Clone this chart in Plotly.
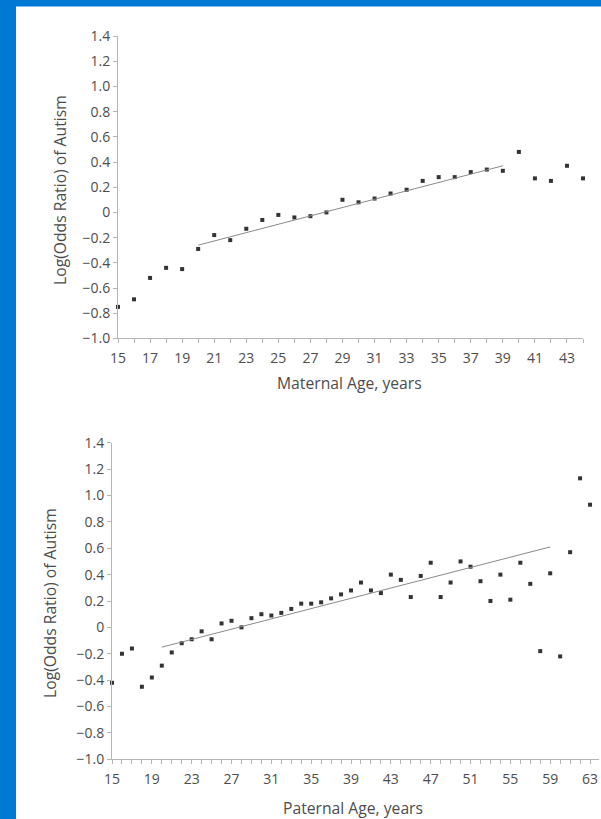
import plotly.graph_objects as go

W, H = 601, 819

# ---- data ----
maternal_age = list(range(15, 45))
maternal_logor = [-0.75, -0.69, -0.52, -0.44, -0.45, -0.29, -0.18, -0.22, -0.13, -0.06,
                  -0.02, -0.04, -0.03, 0.00, 0.10, 0.08, 0.11, 0.15, 0.18, 0.25,
                  0.28, 0.28, 0.32, 0.34, 0.33, 0.48, 0.27, 0.25, 0.37, 0.27]
maternal_trend_x = [20, 39]
maternal_trend_y = [-0.26, 0.37]

paternal_age = list(range(15, 65))
paternal_logor = [-0.42, -0.20, -0.16, -0.45, -0.38, -0.29, -0.19, -0.12, -0.09, -0.03,
                  -0.09, 0.03, 0.05, 0.00, 0.07, 0.10, 0.09, 0.11, 0.14, 0.18,
                  0.18, 0.19, 0.22, 0.25, 0.28, 0.34, 0.28, 0.26, 0.40, 0.36,
                  0.23, 0.39, 0.49, 0.23, 0.34, 0.50, 0.46, 0.35, 0.20, 0.40,
                  0.21, 0.49, 0.33, -0.18, 0.41, -0.22, 0.57, 1.13, 0.93, 1.19]
paternal_trend_x = [20, 59]
paternal_trend_y = [-0.15, 0.61]

y_tickvals = [1.4, 1.2, 1.0, 0.8, 0.6, 0.4, 0.2, 0, -0.2, -0.4, -0.6, -0.8, -1.0]
y_ticktext = ["1.4", "1.2", "1.0", "0.8", "0.6", "0.4", "0.2", "0",
              "\u22120.2", "\u22120.4", "\u22120.6", "\u22120.8", "\u22121.0"]
maternal_xticks = list(range(15, 45, 2))
paternal_xticks = list(range(15, 64, 4))

y_title = "Log(Odds Ratio) of Autism"
maternal_xtitle = "Maternal Age, years"
paternal_xtitle = "Paternal Age, years"

# ---- style ----
FONT = "Open Sans"
TXT = "#4d4d4d"
AXC = "#b5b5b5"
MK = "#333333"
LN = "#8a8a8a"
BLUE = "#0079D4"
TICK_SIZE = 14
TITLE_SIZE = 15.7

def px_x(p):
    return p / W

def px_y(p):
    return 1 - p / H

fig = go.Figure()

fig.add_trace(go.Scatter(x=maternal_age, y=maternal_logor, mode="markers",
                         marker=dict(size=4, color=MK, symbol="square"),
                         xaxis="x", yaxis="y", cliponaxis=False, showlegend=False))
fig.add_trace(go.Scatter(x=maternal_trend_x, y=maternal_trend_y, mode="lines",
                         line=dict(color=LN, width=1),
                         xaxis="x", yaxis="y", showlegend=False))
fig.add_trace(go.Scatter(x=paternal_age, y=paternal_logor, mode="markers",
                         marker=dict(size=4, color=MK, symbol="square"),
                         xaxis="x2", yaxis="y2", cliponaxis=False, showlegend=False))
fig.add_trace(go.Scatter(x=paternal_trend_x, y=paternal_trend_y, mode="lines",
                         line=dict(color=LN, width=1),
                         xaxis="x2", yaxis="y2", showlegend=False))

common_x = dict(showgrid=False, zeroline=False, showline=True, linecolor=AXC, linewidth=1,
                ticks="outside", ticklen=4, tickcolor=AXC, tickwidth=1,
                tickfont=dict(family=FONT, size=TICK_SIZE, color=TXT), ticklabelstandoff=3,
                minor=dict(dtick=1, ticks="outside", ticklen=4, tickcolor=AXC, tickwidth=1, showgrid=False))
common_y = dict(showgrid=False, zeroline=False, showline=True, linecolor=AXC, linewidth=1,
                ticks="outside", ticklen=4, tickcolor=AXC, tickwidth=1,
                tickfont=dict(family=FONT, size=TICK_SIZE, color=TXT),
                tickvals=y_tickvals, ticktext=y_ticktext, range=[-1.0, 1.4])

def title_ann(text, x, y, angle=0):
    return dict(text=text, xref="paper", yref="paper", x=px_x(x), y=px_y(y),
                xanchor="center", yanchor="middle", textangle=angle, showarrow=False,
                font=dict(family=FONT, size=TITLE_SIZE, color=TXT))

fig.update_layout(
    width=W, height=H, template="none",
    margin=dict(l=0, r=0, t=0, b=0),
    paper_bgcolor="white", plot_bgcolor="white",
    showlegend=False,
    xaxis=dict(common_x, domain=[px_x(118), px_x(583)], range=[15, 44],
               tickvals=maternal_xticks, anchor="y"),
    yaxis=dict(common_y, domain=[px_y(338.4), px_y(36)], anchor="x"),
    xaxis2=dict(common_x, domain=[px_x(112), px_x(599)], range=[15, 63.9],
                tickvals=paternal_xticks, anchor="y2"),
    yaxis2=dict(common_y, domain=[px_y(759.3), px_y(442.7)], anchor="x2"),
    shapes=[
        dict(type="rect", xref="paper", yref="paper", x0=0, x1=px_x(16), y0=0, y1=1,
             fillcolor=BLUE, line=dict(width=0), layer="below"),
        dict(type="rect", xref="paper", yref="paper", x0=0, x1=1, y0=px_y(6.5), y1=1,
             fillcolor=BLUE, line=dict(width=0), layer="below"),
    ],
    annotations=[
        title_ann(y_title, 60, 190, -90),
        title_ann(y_title, 50, 603, -90),
        title_ann(maternal_xtitle, 349, 383),
        title_ann(paternal_xtitle, 353, 808),
    ],
)

fig.write_html("out.html", config={"displayModeBar": False},
               post_script="document.body.style.margin='0';document.body.style.overflow='hidden';")
